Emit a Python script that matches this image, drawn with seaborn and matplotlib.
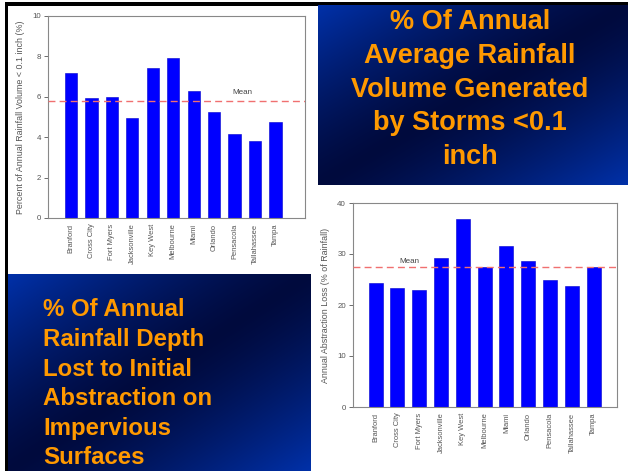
import numpy as np
import matplotlib
matplotlib.use("Agg")
import matplotlib.pyplot as plt
from matplotlib.patches import Rectangle
import seaborn as sns
import pandas as pd

# ---- data -------------------------------------------------------------
stations = ["Branford", "Cross City", "Fort Myers", "Jacksonville", "Key West",
            "Melbourne", "Miami", "Orlando", "Pensacola", "Tallahassee", "Tampa"]
small_storm_pct = [7.2, 5.95, 5.98, 4.97, 7.45, 7.9, 6.27, 5.25, 4.17, 3.82, 4.74]
small_storm_mean = 5.8
abstraction_pct = [24.4, 23.4, 23.0, 29.3, 36.9, 27.4, 31.5, 28.6, 25.0, 23.8, 27.5]
abstraction_mean = 27.4

title_top = ["% Of Annual", "Average Rainfall", "Volume Generated",
             "by Storms <0.1", "inch"]
title_bottom = ["% Of Annual", "Rainfall Depth", "Lost to Initial",
                "Abstraction on", "Impervious", "Surfaces"]

# ---- figure -----------------------------------------------------------
W, H = 628, 471
sns.set_theme(style="white")
plt.rcParams["font.family"] = ["Liberation Sans", "DejaVu Sans"]
fig = plt.figure(figsize=(W / 100, H / 100), dpi=100)
fig.patch.set_facecolor("white")


def px_box(x0, y0, x1, y1):
    return [x0 / W, 1 - y1 / H, (x1 - x0) / W, (y1 - y0) / H]


# background canvas in pixel units
bg = fig.add_axes([0, 0, 1, 1], zorder=0)
bg.set_xlim(0, W)
bg.set_ylim(H, 0)
bg.axis("off")

bg.add_patch(Rectangle((5, 2), W - 5, 3.5, color="black", lw=0))
bg.add_patch(Rectangle((5, 2), 3, H, color="black", lw=0))


def gradient_box(x0, y0, x1, y1):
    nx, ny = 200, 120
    u = np.linspace(0, 1, nx)[None, :]
    v = np.linspace(0, 1, ny)[:, None]
    t = (u + v) / 2
    w = np.clip(np.abs(t - 0.5) * 2, 0, 1) ** 1.3
    light = np.array([0.0, 0.19, 0.66])
    dark = np.array([0.0, 0.04, 0.24])
    img = dark + (light - dark) * w[..., None]
    bg.imshow(img, extent=(x0, x1, y1, y0), aspect="auto",
              interpolation="bilinear", zorder=1)


gradient_box(318, 5.5, 628, 185)
gradient_box(8, 274, 311, 471)
bg.set_xlim(0, W)
bg.set_ylim(H, 0)

orange = "#FF9900"
for i, line in enumerate(title_top):
    bg.text(470, 22 + i * 33.8, line, ha="center", va="center",
            color=orange, fontsize=19.5, fontweight="bold", zorder=3)
for i, line in enumerate(title_bottom):
    bg.text(43, 310 + i * 29.6, line, ha="left", va="center",
            color=orange, fontsize=17.3, fontweight="bold", zorder=3)

grey = "#555555"


def bar_panel(box, values, mean, ymax, yticks, ylabel, xlim, width,
              mean_x, mean_y):
    ax = fig.add_axes(px_box(*box), zorder=2)
    df = pd.DataFrame({"station": stations, "value": values})
    sns.barplot(data=df, x="station", y="value", color="#0000FF",
                saturation=1, width=width, ax=ax, edgecolor="#0000cc",
                linewidth=0.4)
    ax.axhline(mean, color="#f07070", lw=1.0, dashes=(5, 3), zorder=3)
    ax.text(mean_x, mean_y, "Mean", fontsize=5.8, color="#444444",
            ha="left", va="bottom")
    ax.set_xlim(*xlim)
    ax.set_ylim(0, ymax)
    ax.set_yticks(yticks)
    ax.set_yticklabels([str(t) for t in yticks], fontsize=5.7, color=grey)
    ax.set_xticks(range(len(stations)))
    ax.set_xticklabels(stations, rotation=90, fontsize=5.4, color=grey)
    ax.set_xlabel("")
    ax.set_ylabel(ylabel, fontsize=6.4, color=grey, labelpad=5)
    ax.tick_params(axis="y", direction="out", length=3, width=0.6,
                   color=grey, pad=2, left=True)
    ax.tick_params(axis="x", length=0, pad=4)
    for s in ax.spines.values():
        s.set_color("#888888")
        s.set_linewidth(0.8)
    ax.set_facecolor("white")
    return ax


bar_panel((48, 16, 305, 218), small_storm_pct, small_storm_mean, 10,
          [0, 2, 4, 6, 8, 10],
          "Percent of Annual Rainfall Volume < 0.1 inch (%)",
          (-1.12, 11.44), 0.6, 7.9, 6.05)

bar_panel((353, 203, 617, 407), abstraction_pct, abstraction_mean, 40,
          [0, 10, 20, 30, 40],
          "Annual Abstraction Loss (% of Rainfall)",
          (-1.04, 11.07), 0.64, 1.1, 27.9)

fig.savefig("out.png", dpi=100, facecolor="white")
